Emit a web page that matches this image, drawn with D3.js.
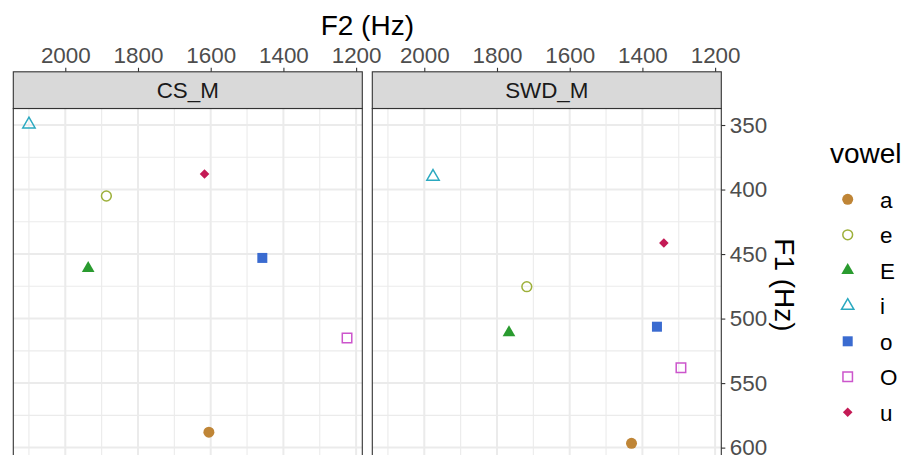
<!DOCTYPE html>
<html><head><meta charset="utf-8">
<script src="https://cdn.jsdelivr.net/npm/d3@7"></script>
<style>body{margin:0;background:#fff}svg{display:block}text{font-family:"Liberation Sans",Arial,sans-serif}</style>
</head><body>
<svg id="c" width="906" height="455"></svg>
<script>
const vowels = ["a","e","E","i","o","O","u"];
const panels = ["CS_M","SWD_M"];
const csF2 = [1605,1887,1937,2100,1458,1225,1617];
const csF1 = [588,405,461,349.5,453,515,388];
const swdF2 = [1430,1718,1767,1976,1360,1294,1341];
const swdF1 = [596.7,475.3,510.8,390,506.3,538.1,441.4];
const xTicks = [2000,1800,1600,1400,1200];
const xMinor = [2100,1900,1700,1500,1300];
const yTicks = [350,400,450,500,550,600];
const yMinor = [375,425,475,525,575];
const colors = ["#BF8536","#9DB03A","#2A9B2F","#2BA9C0","#3A6BD0","#CC55CC","#C41A55"];
const shapes = ["circleF","circleO","triF","triO","sqF","sqO","diamond"];
const xDomain = [2143,1183];
const yDomain = [337.2,610];

const svg = d3.select("#c");
const panelX = [13.3,372.3], panelW = 349, panelTop = 108.5, stripTop = 71.8;
const pxPerHz = 1.2904;
const panelH = (yDomain[1]-yDomain[0])*pxPerHz;
const y = d3.scaleLinear().domain(yDomain).range([panelTop, panelTop+panelH]);
const data = [csF2.map((v,i)=>({f2:v,f1:csF1[i],v:i})), swdF2.map((v,i)=>({f2:v,f1:swdF1[i],v:i}))];

function drawShape(g, k, cx, cy){
  const c = colors[k], s = shapes[k];
  let sel;
  if (s==="circleF") sel = g.append("circle").attr("r",5.5).attr("fill",c);
  else if (s==="circleO") sel = g.append("circle").attr("r",4.9).attr("fill","none").attr("stroke",c).attr("stroke-width",1.5);
  else if (s==="triF") sel = g.append("path").attr("d",d3.symbol(d3.symbolTriangle,70)()).attr("fill",c);
  else if (s==="triO") sel = g.append("path").attr("d",d3.symbol(d3.symbolTriangle,66)()).attr("fill","none").attr("stroke",c).attr("stroke-width",1.5);
  else if (s==="sqF") sel = g.append("path").attr("d",d3.symbol(d3.symbolSquare,100)()).attr("fill",c);
  else if (s==="sqO") sel = g.append("path").attr("d",d3.symbol(d3.symbolSquare,90)()).attr("fill","none").attr("stroke",c).attr("stroke-width",1.5);
  else sel = g.append("path").attr("d",d3.symbol(d3.symbolSquare,46)()).attr("fill",c);
  if (s==="diamond") sel.attr("transform",`translate(${cx},${cy}) rotate(45)`);
  else sel.attr("transform",`translate(${cx},${cy})`);
}

panels.forEach((p,pi)=>{
  const x0 = panelX[pi];
  const x = d3.scaleLinear().domain(xDomain).range([x0, x0+panelW]);
  const g = svg.append("g");
  g.append("rect").attr("x",x0).attr("y",panelTop).attr("width",panelW).attr("height",panelH).attr("fill","#fff");
  g.selectAll(".vm").data(xMinor).enter().append("line")
    .attr("x1",d=>x(d)).attr("x2",d=>x(d)).attr("y1",panelTop).attr("y2",panelTop+panelH)
    .attr("stroke","#EBEBEB").attr("stroke-width",1.1);
  g.selectAll(".hm").data(yMinor).enter().append("line")
    .attr("y1",d=>y(d)).attr("y2",d=>y(d)).attr("x1",x0).attr("x2",x0+panelW)
    .attr("stroke","#EBEBEB").attr("stroke-width",1.1);
  g.selectAll(".vM").data(xTicks).enter().append("line")
    .attr("x1",d=>x(d)).attr("x2",d=>x(d)).attr("y1",panelTop).attr("y2",panelTop+panelH)
    .attr("stroke","#EBEBEB").attr("stroke-width",2);
  g.selectAll(".hM").data(yTicks).enter().append("line")
    .attr("y1",d=>y(d)).attr("y2",d=>y(d)).attr("x1",x0).attr("x2",x0+panelW)
    .attr("stroke","#EBEBEB").attr("stroke-width",2);
  data[pi].forEach(d=>drawShape(g, d.v, x(d.f2), y(d.f1)));
  g.append("rect").attr("x",x0).attr("y",panelTop).attr("width",panelW).attr("height",panelH)
    .attr("fill","none").attr("stroke","#333").attr("stroke-width",1.1);
  g.append("rect").attr("x",x0).attr("y",stripTop).attr("width",panelW).attr("height",panelTop-stripTop)
    .attr("fill","#D9D9D9").attr("stroke","#333").attr("stroke-width",1.1);
  g.append("text").attr("x",x0+panelW/2).attr("y",(stripTop+panelTop)/2+8)
    .attr("text-anchor","middle").attr("font-size",22.4).attr("fill","#1A1A1A").text(p);
  const ax = d3.axisTop(x).tickValues(xTicks).tickSize(4).tickPadding(4.5).tickFormat(d3.format("d"));
  const axg = svg.append("g").attr("transform",`translate(0,${stripTop})`).call(ax);
  axg.select(".domain").remove();
  axg.selectAll(".tick line").attr("stroke","#333").attr("stroke-width",1.1);
  axg.selectAll(".tick text").attr("font-size",22.4).attr("fill","#4D4D4D").attr("font-family","Liberation Sans, Arial, sans-serif");
});

const ay = d3.axisRight(y).tickValues(yTicks).tickSize(4).tickPadding(4.5).tickFormat(d3.format("d"));
const ayg = svg.append("g").attr("transform",`translate(${panelX[1]+panelW},0)`).call(ay);
ayg.select(".domain").remove();
ayg.selectAll(".tick line").attr("stroke","#333").attr("stroke-width",1.1);
ayg.selectAll(".tick text").attr("font-size",22.4).attr("fill","#4D4D4D").attr("font-family","Liberation Sans, Arial, sans-serif");

svg.append("text").attr("x",(panelX[0]+panelX[1]+panelW)/2).attr("y",35)
  .attr("text-anchor","middle").attr("font-size",28).attr("fill","#000").text("F2 (Hz)");
svg.append("text").attr("transform",`translate(775,285) rotate(90)`)
  .attr("text-anchor","middle").attr("font-size",28).attr("fill","#000").text("F1 (Hz)");

const lg = svg.append("g");
lg.append("text").attr("x",830).attr("y",163.3).attr("font-size",28).attr("fill","#000").text("vowel");
vowels.forEach((v,i)=>{
  const cy = 199.3 + i*35.5;
  drawShape(lg, i, 847.7, cy);
  lg.append("text").attr("x",880).attr("y",cy+8.2).attr("font-size",22.4).attr("fill","#000").text(v);
});
</script>
</body></html>
